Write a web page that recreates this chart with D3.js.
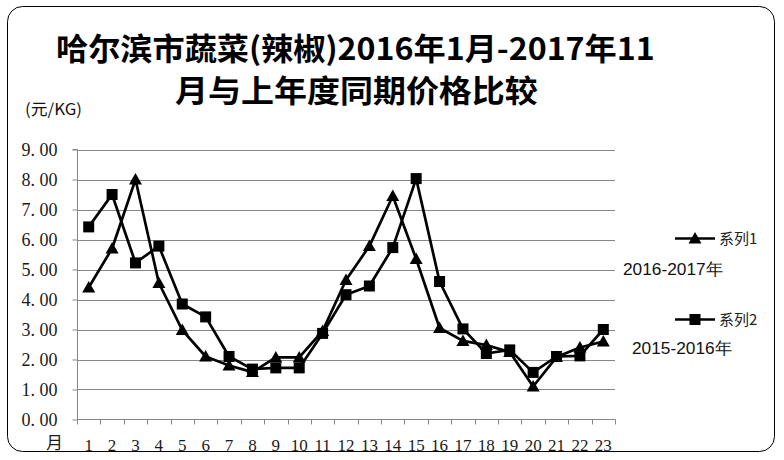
<!DOCTYPE html>
<html>
<head>
<meta charset="utf-8">
<script src="https://cdn.jsdelivr.net/npm/d3@7/dist/d3.min.js"></script>
<style>
html,body{margin:0;padding:0;background:#fff;}
svg{display:block;}
</style>
</head>
<body>
<svg id="chart" width="784" height="460"></svg>
<script>
// ---- data ----
const months = d3.range(1, 24).map(String);
const tickValues = [0,1,2,3,4,5,6,7,8,9];
const tickLabels = ["0. 00","1. 00","2. 00","3. 00","4. 00","5. 00","6. 00","7. 00","8. 00","9. 00"];
const series1Name = "系列1";
const series1Label = "2016-2017年";
const series1 = [4.4, 5.7, 8.0, 4.55, 2.98, 2.1, 1.8, 1.58, 2.07, 2.07, 2.95, 4.65, 5.78, 7.45, 5.35, 3.05, 2.62, 2.48, 2.25, 1.1, 2.08, 2.4, 2.6];
const series2Name = "系列2";
const series2Label = "2015-2016年";
const series2 = [6.42, 7.5, 5.22, 5.78, 3.85, 3.42, 2.1, 1.68, 1.72, 1.72, 2.87, 4.16, 4.45, 5.73, 8.03, 4.6, 3.02, 2.2, 2.32, 1.57, 2.1, 2.12, 3.0];
const titleLine1 = "哈尔滨市蔬菜(辣椒)2016年1月-2017年11";
const titleLine2 = "月与上年度同期价格比较";
const unitLabel = "(元/KG)";
const xUnitLabel = "月";

// ---- layout ----
const svg = d3.select("#chart");
const pLeft = 77, pRight = 615, pTop = 149.5, pBottom = 419.5;
const x = d3.scaleBand().domain(months).range([pLeft, pRight]);
const y = d3.scaleLinear().domain([0, 9]).range([pBottom, pTop]);
const gridColor = "#868686";
const serif = "'Liberation Serif', 'DejaVu Serif', serif";
const cjk = "'Noto Sans CJK SC', sans-serif";

// border
svg.append("rect").attr("x", 7.5).attr("y", 6.5).attr("width", 767).attr("height", 445)
  .attr("rx", 15).attr("ry", 15).attr("fill", "#fff").attr("stroke", "#000").attr("stroke-width", 1);

// title
function fitText(sel, x0, target) {
  const w = sel.node().getComputedTextLength();
  const s = target / w;
  sel.attr("transform", `translate(${x0},0) scale(${s},1)`).attr("x", 0);
}
const t1 = svg.append("text").attr("y", 60).attr("font-family", cjk).attr("font-weight", 700)
  .attr("font-size", 31).attr("fill", "#000").text(titleLine1);
fitText(t1, 56, 599);
const t2 = svg.append("text").attr("y", 102).attr("font-family", cjk).attr("font-weight", 700)
  .attr("font-size", 31).attr("fill", "#000").text(titleLine2);
fitText(t2, 175, 363);

// unit label
const u = svg.append("text").attr("y", 115).attr("font-family", cjk).attr("font-size", 16)
  .attr("fill", "#111").text(unitLabel);
fitText(u, 25, 57);

// gridlines
svg.append("g").selectAll("line").data(tickValues.slice(1)).join("line")
  .attr("x1", pLeft).attr("x2", pRight)
  .attr("y1", d => Math.round(y(d)) + 0.5).attr("y2", d => Math.round(y(d)) + 0.5)
  .attr("stroke", gridColor).attr("stroke-width", 1);

// y axis
const yAxis = d3.axisLeft(y).tickValues(tickValues).tickSize(5).tickPadding(15)
  .tickFormat((d, i) => tickLabels[i]);
const gy = svg.append("g").attr("transform", `translate(${pLeft + 0.5},0)`).call(yAxis);
gy.select(".domain").attr("stroke", gridColor).attr("d", `M-5,${pTop}H0V${pBottom}`);
gy.selectAll(".tick line").attr("stroke", gridColor);
gy.selectAll(".tick text").attr("font-family", serif).attr("font-size", 18).attr("fill", "#1a1a1a")
  .attr("dy", "0.33em");

// x axis
const gx = svg.append("g").attr("transform", `translate(0,${pBottom})`);
gx.append("line").attr("x1", pLeft).attr("x2", pRight + 0.5).attr("y1", 0).attr("y2", 0).attr("stroke", gridColor);
const bounds = months.map(m => x(m)).concat([pRight]);
gx.selectAll("line.tk").data(bounds).join("line").attr("class", "tk")
  .attr("x1", d => Math.round(d) + 0.5).attr("x2", d => Math.round(d) + 0.5)
  .attr("y1", 0).attr("y2", 5).attr("stroke", gridColor);
gx.selectAll("text").data(months).join("text")
  .attr("x", d => x(d) + x.bandwidth() / 2).attr("y", 31)
  .attr("text-anchor", "middle").attr("font-family", serif).attr("font-size", 17).attr("fill", "#1a1a1a")
  .text(d => d);
svg.append("text").attr("x", 46).attr("y", 448.5).attr("font-family", cjk).attr("font-size", 17)
  .attr("fill", "#1a1a1a").text(xUnitLabel);

// series
const cx = (d, i) => x(months[i]) + x.bandwidth() / 2;
const line = d3.line().x((d, i) => cx(d, i)).y(d => y(d));
const triPath = "M0,-6.5L6.5,5L-6.5,5Z";

svg.append("path").datum(series2).attr("d", line).attr("fill", "none").attr("stroke", "#000")
  .attr("stroke-width", 2.7).attr("stroke-linejoin", "round");
svg.append("path").datum(series1).attr("d", line).attr("fill", "none").attr("stroke", "#000")
  .attr("stroke-width", 2.7).attr("stroke-linejoin", "round");

svg.append("g").selectAll("rect").data(series2).join("rect")
  .attr("x", (d, i) => cx(d, i) - 5.5).attr("y", d => y(d) - 5.5)
  .attr("width", 11).attr("height", 11).attr("fill", "#000");
svg.append("g").selectAll("path").data(series1).join("path")
  .attr("transform", (d, i) => `translate(${cx(d, i)},${y(d)})`)
  .attr("d", triPath).attr("fill", "#000");

// legend
const lg = svg.append("g");
lg.append("line").attr("x1", 675).attr("x2", 715).attr("y1", 238.5).attr("y2", 238.5)
  .attr("stroke", "#000").attr("stroke-width", 2.7);
lg.append("path").attr("transform", "translate(695,238.5)").attr("d", triPath).attr("fill", "#000");
lg.append("text").attr("x", 719).attr("y", 244).attr("font-family", cjk).attr("font-size", 15)
  .attr("fill", "#222").text(series1Name);
lg.append("line").attr("x1", 675).attr("x2", 715).attr("y1", 319.5).attr("y2", 319.5)
  .attr("stroke", "#000").attr("stroke-width", 2.7);
lg.append("rect").attr("x", 689.5).attr("y", 314).attr("width", 11).attr("height", 11).attr("fill", "#000");
lg.append("text").attr("x", 719).attr("y", 325).attr("font-family", cjk).attr("font-size", 15)
  .attr("fill", "#222").text(series2Name);

const l1 = svg.append("text").attr("y", 275).attr("font-family", "'Liberation Sans', sans-serif")
  .attr("font-size", 17).attr("fill", "#111").text(series1Label);
fitText(l1, 623, 100);
const l2 = svg.append("text").attr("y", 354).attr("font-family", "'Liberation Sans', sans-serif")
  .attr("font-size", 17).attr("fill", "#111").text(series2Label);
fitText(l2, 632, 100);
</script>
</body>
</html>
